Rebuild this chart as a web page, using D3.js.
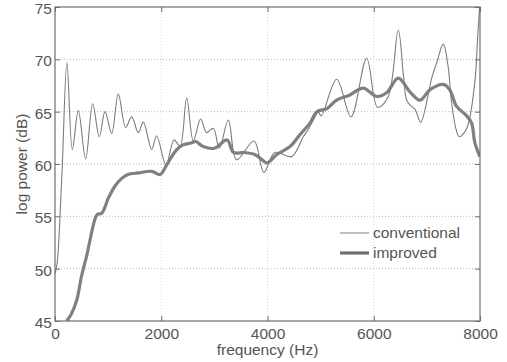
<!DOCTYPE html>
<html>
<head>
<meta charset="utf-8">
<script src="https://cdn.jsdelivr.net/npm/d3@7"></script>
<style>
  body { margin: 0; background: #fff; }
  svg { display: block; font-family: "Liberation Sans", Arial, sans-serif; }
</style>
</head>
<body>
<svg id="chart" width="507" height="362"></svg>
<script>
// Chart data
const xTicks = [0, 2000, 4000, 6000, 8000];
const yTicks = [45, 50, 55, 60, 65, 70, 75];
const seriesNames = ["conventional", "improved"];

const convFreq = [0, 40, 130, 225, 326, 439, 577, 709, 834, 941, 1067, 1192, 1330, 1443, 1568, 1662,
  1820, 1914, 2090, 2240, 2353, 2478, 2603, 2741, 2854, 2980, 3093, 3262, 3419, 3745, 3930,
  4140, 4455, 4673, 4767, 4893, 4956, 5010, 5302, 5571, 5866, 6073, 6270, 6461, 6560, 6620,
  6690, 6780, 6882, 7025, 7090, 7180, 7309, 7400, 7460, 7550, 7610, 7750, 7900, 7960, 8000];
const convPower = [49.5, 50.5, 59, 69.7, 61.4, 65.1, 60.5, 65.75, 62.6, 65.0, 62.9, 66.7, 63.5, 64.5, 63.0, 64.0,
  61.4, 62.7, 59.9, 62.3, 61.7, 66.3, 62.2, 64.3, 63.0, 63.4, 61.5, 64.2, 60.4, 62.2, 59.2,
  61.1, 60.7, 62.6, 63.3, 64.5, 65.0, 64.6, 68.1, 64.5, 70.1, 65.4, 66.4, 72.8, 68.4, 66.1,
  65.6, 65.2, 64.0, 66.6, 68.2, 69.6, 71.45, 69.3, 66.1, 63.3, 62.6, 63.4, 67.7, 72.5, 75.5];

const impFreq = [220, 310, 410, 500, 595, 750, 800, 880, 1005, 1130, 1250, 1370, 1570, 1820, 1980,
  2100, 2280, 2400, 2560, 2650, 2780, 3000, 3240, 3360, 3560, 3760, 3900, 3990, 4175, 4430,
  4610, 4800, 4930, 5120, 5300, 5550, 5800, 6060, 6240, 6461, 6680, 6870, 7060, 7310, 7430,
  7560, 7750, 7842, 7905, 8000];
const impPower = [45, 45.7, 47.0, 49.3, 51.2, 54.7, 55.2, 55.3, 56.75, 57.9, 58.6, 59.0, 59.15, 59.3, 59.0,
  59.9, 61.3, 61.8, 62.0, 62.15, 61.7, 61.5, 62.3, 61.1, 61.1, 60.9, 60.4, 60.1, 60.9, 61.7,
  62.8, 63.9, 65.0, 65.3, 66.1, 66.6, 67.25, 66.45, 66.8, 68.2, 66.9, 66.1, 67.1, 67.6, 67.1,
  65.5, 64.6, 63.9, 62.0, 60.7];

// Layout
const margin = {top: 7, right: 27, bottom: 41, left: 55};
const width = 507, height = 362;
const svg = d3.select("#chart");

const x = d3.scaleLinear().domain([0, 8000]).range([margin.left, width - margin.right]);
const y = d3.scaleLinear().domain([45, 75]).range([height - margin.bottom, margin.top]);

const axisColor = "#6e6e6e";
const textColor = "#555";

// Clip for the lines
svg.append("clipPath").attr("id", "plotClip")
  .append("rect")
  .attr("x", x(0)).attr("y", y(75))
  .attr("width", x(8000) - x(0)).attr("height", y(45) - y(75));

// Dotted grid
const grid = svg.append("g").attr("stroke", "#b8b8b8").attr("stroke-dasharray", "1,2");
grid.selectAll(".gy").data(yTicks.slice(1, -1)).join("line")
  .attr("x1", x(0)).attr("x2", x(8000))
  .attr("y1", d => y(d)).attr("y2", d => y(d));
grid.selectAll(".gx").data(xTicks.slice(1, -1)).join("line")
  .attr("stroke", "#d8d8d8")
  .attr("y1", y(45)).attr("y2", y(75))
  .attr("x1", d => x(d)).attr("x2", d => x(d));

// Axes with inward ticks on all four sides
function styleAxis(g) {
  g.select(".domain").remove();
  g.selectAll(".tick line").attr("stroke", axisColor);
  g.selectAll("text").attr("fill", textColor).attr("font-size", "15.5px");
}
svg.append("g").attr("transform", `translate(0,${y(45)})`)
  .call(d3.axisBottom(x).tickValues(xTicks).tickFormat(d3.format("d"))
    .tickSizeInner(-5).tickSizeOuter(0).tickPadding(7))
  .call(styleAxis);
svg.append("g").attr("transform", `translate(0,${y(75)})`)
  .call(d3.axisTop(x).tickValues(xTicks).tickSizeInner(-5).tickSizeOuter(0).tickFormat(""))
  .call(styleAxis);
svg.append("g").attr("transform", `translate(${x(0)},0)`)
  .call(d3.axisLeft(y).tickValues(yTicks).tickSizeInner(-5).tickSizeOuter(0).tickPadding(3))
  .call(styleAxis)
  .call(g => g.selectAll("text").attr("dy", "0.42em"));
svg.append("g").attr("transform", `translate(${x(8000)},0)`)
  .call(d3.axisRight(y).tickValues(yTicks).tickSizeInner(-5).tickSizeOuter(0).tickFormat(""))
  .call(styleAxis);

// Lines
const line = d3.line().x(d => x(d[0])).y(d => y(d[1])).curve(d3.curveCatmullRom.alpha(0.5));
const plot = svg.append("g").attr("clip-path", "url(#plotClip)").attr("fill", "none");

plot.append("path")
  .datum(d3.zip(impFreq, impPower))
  .attr("stroke", "#808080")
  .attr("stroke-width", 3.2)
  .attr("stroke-linejoin", "round")
  .attr("d", line);

plot.append("path")
  .datum(d3.zip(convFreq, convPower))
  .attr("stroke", "#7c7c7c")
  .attr("stroke-width", 1.1)
  .attr("d", line);

// Frame
svg.append("rect")
  .attr("x", x(0)).attr("y", y(75))
  .attr("width", x(8000) - x(0)).attr("height", y(45) - y(75))
  .attr("fill", "none").attr("stroke", axisColor).attr("stroke-width", 1.2);

// Legend
const legend = svg.append("g").attr("transform", "translate(340,233)");
seriesNames.forEach((name, i) => {
  const row = legend.append("g").attr("transform", `translate(0,${i * 20})`);
  row.append("line").attr("x1", 0).attr("x2", 29)
    .attr("stroke", i === 0 ? "#8a8a8a" : "#707070")
    .attr("stroke-width", i === 0 ? 1.1 : 3.2);
  row.append("text").attr("x", 33).attr("dy", "0.35em")
    .attr("font-size", "15.5px").attr("fill", textColor).text(name);
});

// Axis labels
svg.append("text")
  .attr("x", x(4000)).attr("y", 355)
  .attr("text-anchor", "middle").attr("font-size", "15.5px").attr("fill", textColor)
  .text("frequency (Hz)");
svg.append("text")
  .attr("transform", `translate(27,${(y(45) + y(75)) / 2}) rotate(-90)`)
  .attr("text-anchor", "middle").attr("font-size", "15.5px").attr("fill", textColor)
  .text("log power (dB)");
</script>
</body>
</html>
